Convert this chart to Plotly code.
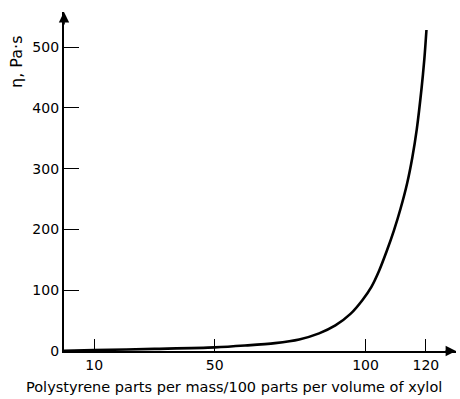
import plotly.graph_objects as go

# Polystyrene parts per mass / 100 parts per volume of xylol
conc = [0, 10, 30, 50, 60, 70, 78, 84.6, 90, 95, 99, 102, 104.5, 107, 109.4,
        111.6, 113.8, 115.5, 117, 118.6, 119.5, 120.2]
# viscosity eta, Pa·s
eta = [0.5, 1.5, 3.5, 6, 9, 13, 19, 29, 42, 61, 84, 106, 132, 164, 198,
       234, 276, 318, 365, 433, 480, 528]

x_ticks = [10, 50, 100, 120]
y_ticks = [0, 100, 200, 300, 400, 500]

FONT = "DejaVu Sans"
L, R, T, B = 64, 4, 12, 48
PW, PH = 460 - L - R, 399 - T - B

fig = go.Figure()
fig.add_trace(go.Scatter(
    x=conc, y=eta, mode="lines",
    line=dict(color="black", width=2.6, shape="spline", smoothing=0.8),
    cliponaxis=False, showlegend=False, hoverinfo="skip",
))

fig.update_layout(
    width=460, height=399,
    margin=dict(l=L, r=R, t=T, b=B),
    paper_bgcolor="white", plot_bgcolor="white",
    font=dict(family=FONT, size=14, color="black"),
    xaxis=dict(
        range=[0, 130], tickvals=x_ticks, ticktext=[str(v) for v in x_ticks],
        ticks="inside", ticklen=12, tickwidth=1.2, tickcolor="black",
        showline=True, linecolor="black", linewidth=2.2,
        showgrid=False, zeroline=False,
        tickfont=dict(size=14, family=FONT),
    ),
    yaxis=dict(
        range=[0, 557.6], tickvals=y_ticks, ticktext=[str(v) for v in y_ticks],
        ticks="inside", ticklen=15, tickwidth=1.2, tickcolor="black",
        showline=True, linecolor="black", linewidth=2.2,
        showgrid=False, zeroline=False,
        tickfont=dict(size=14, family=FONT),
    ),
    annotations=[
        # x-axis arrow head
        dict(x=1.0, y=0, xref="paper", yref="paper", ax=-12, ay=0, text="",
             showarrow=True, arrowhead=2, arrowsize=1.3, arrowwidth=1.6,
             arrowcolor="black"),
        # y-axis arrow head
        dict(x=0, y=1.0, xref="paper", yref="paper", ax=0, ay=14, text="",
             showarrow=True, arrowhead=2, arrowsize=1.3, arrowwidth=1.6,
             arrowcolor="black"),
        # axis titles
        dict(x=(234 - L) / PW, y=(351 - 387) / PH, xref="paper", yref="paper",
             xanchor="center", yanchor="middle",
             text="Polystyrene parts per mass/100 parts per volume of xylol",
             showarrow=False, font=dict(size=14.5, family=FONT)),
        dict(x=(17 - L) / PW, y=(351 - 62) / PH, xref="paper", yref="paper",
             xanchor="center", yanchor="middle", text="η, Pa·s",
             showarrow=False, textangle=-90, font=dict(size=16, family=FONT)),
    ],
)

fig.write_html("out.html")
